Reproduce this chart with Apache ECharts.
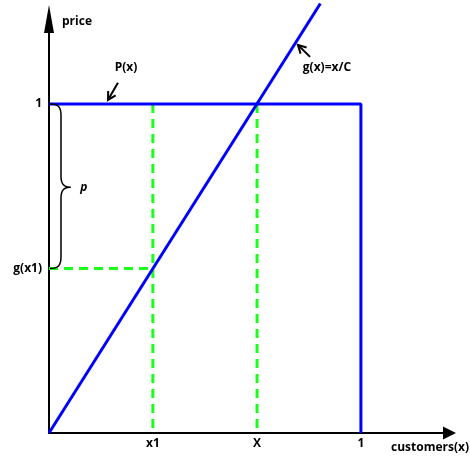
<!DOCTYPE html>
<html>
<head>
<meta charset="utf-8">
<script src="https://cdn.jsdelivr.net/npm/echarts@6.0.0/dist/echarts.min.js"></script>
<style>
  html, body { margin: 0; padding: 0; background: #fff; }
  #main { width: 470px; height: 464px; }
</style>
</head>
<body>
<div id="main"></div>
<script>
// tick positions and labels
var xTickValues = [0.333, 0.667, 1];
var xTickLabels = ['x1', 'X', '1'];
var yTickValues = [0.5, 1];
var yTickLabels = ['g(x1)', '1'];

// P(x): flat price 1 up to x = 1
var priceLine = [[0, 1], [1, 1], [1, 0]];
// g(x) = x/C, with C = 2/3
var gLine = [[0, 0], [0.87, 1.305]];
// green helper lines
var x1Guide = [[0.333, 1], [0.333, 0]];
var bigXGuide = [[0.667, 1], [0.667, 0]];
var gx1Guide = [[0, 0.5], [0.333, 0.5]];

var font = '"Open Sans", sans-serif';
var blue = '#0000ff';
var green = '#1aff1a';

function pickLabel(vals, labels, v) {
	var best = 0;
	for (var i = 1; i < vals.length; i++) {
		if (Math.abs(vals[i] - v) < Math.abs(vals[best] - v)) best = i;
	}
	return labels[best];
}

var chart = echarts.init(document.getElementById('main'));

var guideStyle = { color: green, width: 3, type: [9, 6] };

var option = {
	animation: false,
	grid: { left: 49, right: 20.5, top: 19, bottom: 31, outerBoundsMode: 'none' },
	xAxis: {
		type: 'value', min: 0, max: 1.284,
		axisLine: { show: true, symbol: ['none', 'triangle'], symbolSize: [13, 13],
			lineStyle: { color: '#000', width: 2 } },
		axisTick: { show: false },
		splitLine: { show: false },
		axisLabel: {
			customValues: xTickValues, margin: 5, color: '#000',
			fontFamily: font, fontWeight: 'bold', fontSize: 12,
			formatter: function (v) { return pickLabel(xTickValues, xTickLabels, v); }
		}
	},
	yAxis: {
		type: 'value', min: 0, max: 1.258,
		axisLine: { show: true, symbol: ['none', 'triangle'], symbolSize: [10, 28],
			lineStyle: { color: '#000', width: 2 } },
		axisTick: { show: false },
		splitLine: { show: false },
		axisLabel: {
			customValues: yTickValues, margin: 7, color: '#000',
			fontFamily: font, fontWeight: 'bold', fontSize: 12,
			formatter: function (v) { return pickLabel(yTickValues, yTickLabels, v); }
		}
	},
	series: [
		{ type: 'line', data: x1Guide, symbol: 'none', lineStyle: guideStyle, z: 1 },
		{ type: 'line', data: bigXGuide, symbol: 'none', lineStyle: guideStyle, z: 1 },
		{ type: 'line', data: gx1Guide, symbol: 'none', lineStyle: guideStyle, z: 1 },
		{ type: 'line', data: priceLine, symbol: 'none', lineStyle: { color: blue, width: 3 }, z: 3 },
		{ type: 'line', data: gLine, symbol: 'none', clip: false, lineStyle: { color: blue, width: 3 }, z: 3 }
	]
};
chart.setOption(option);

// annotations placed from data coordinates
function px(x, y) { return chart.convertToPixel({ gridIndex: 0 }, [x, y]); }

var ink = { stroke: '#000', lineWidth: 2, fill: null };

function arrow(from, to, size) {
	var a = px(from[0], from[1]), b = px(to[0], to[1]);
	var ang = Math.atan2(b[1] - a[1], b[0] - a[0]);
	var h1 = [b[0] - size * Math.cos(ang - 0.5), b[1] - size * Math.sin(ang - 0.5)];
	var h2 = [b[0] - size * Math.cos(ang + 0.5), b[1] - size * Math.sin(ang + 0.5)];
	return [
		{ type: 'polyline', shape: { points: [a, b] }, style: ink, z: 10 },
		{ type: 'polyline', shape: { points: [h1, b, h2] }, style: ink, z: 10 }
	];
}

function label(text, at, align, style) {
	var p = px(at[0], at[1]);
	return {
		type: 'text', x: p[0], y: p[1], z: 10,
		style: { text: text, fill: '#000', fontFamily: font, fontSize: 12,
			fontWeight: 'bold', fontStyle: style || 'normal',
			align: align, verticalAlign: 'middle' }
	};
}

// sample a cubic bezier into points
function bez(pts, p0, c1, c2, p1) {
	for (var i = 0; i <= 12; i++) {
		var t = i / 12, u = 1 - t;
		pts.push([
			u * u * u * p0[0] + 3 * u * u * t * c1[0] + 3 * u * t * t * c2[0] + t * t * t * p1[0],
			u * u * u * p0[1] + 3 * u * u * t * c1[1] + 3 * u * t * t * c2[1] + t * t * t * p1[1]
		]);
	}
}

// curly brace between g(x1) and 1
var braceTop = px(0, 1), braceBot = px(0, 0.5), braceTip = px(0.07, 0.747);
var bl = braceTop[0] + 1, bx = braceTop[0] + 12;
var ty = braceTop[1], by = braceBot[1], my = braceTip[1];
var bracePts = [];
bez(bracePts, [bl, ty], [bl + 9, ty], [bx, ty + 4], [bx, ty + 12]);
bez(bracePts, [bx, my - 11], [bx, my - 3], [bx + 3, my], braceTip);
bez(bracePts, braceTip, [bx + 3, my], [bx, my + 3], [bx, my + 11]);
bez(bracePts, [bx, by - 12], [bx, by - 4], [bl + 9, by], [bl, by]);

var graphics = []
	.concat(arrow([0.221, 1.064], [0.189, 1.012], 9))
	.concat(arrow([0.837, 1.143], [0.798, 1.179], 9))
	.concat([
		{ type: 'polyline', z: 10, shape: { points: bracePts },
			style: { stroke: '#000', lineWidth: 1.5, fill: null } },
		label('P(x)', [0.247, 1.109], 'center'),
		label('g(x)=x/C', [0.891, 1.109], 'center'),
		label('p', [0.1, 0.745], 'left', 'italic'),
		{ type: 'text', left: 62, top: 16, z: 10,
			style: { text: 'price', fill: '#000', fontFamily: font, fontSize: 12, fontWeight: 'bold' } },
		{ type: 'text', right: 1, top: 442, z: 10,
			style: { text: 'customers(x)', fill: '#000', fontFamily: font, fontSize: 12, fontWeight: 'bold' } }
	]);

chart.setOption({ graphic: graphics });
</script>
</body>
</html>
